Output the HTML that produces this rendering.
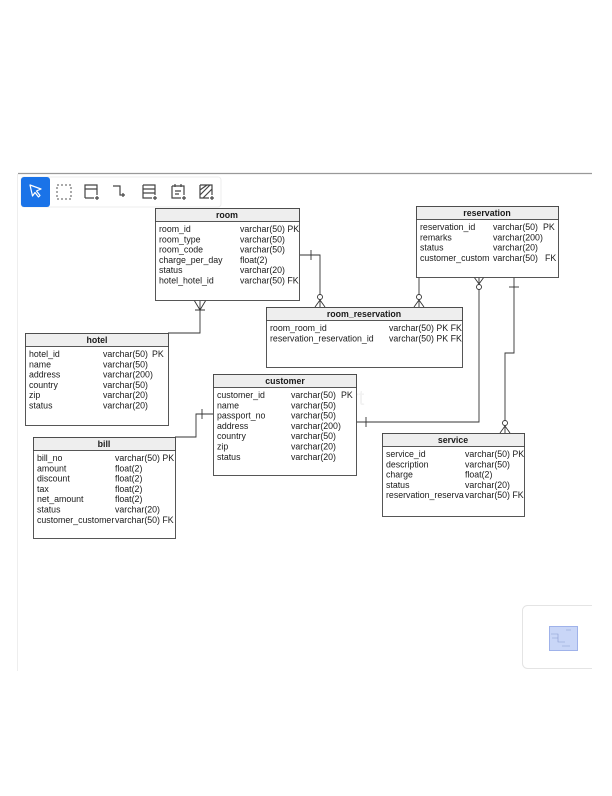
<!DOCTYPE html>
<html><head><meta charset="utf-8"><style>
html,body{margin:0;padding:0;background:#fff;}
svg{display:block;font-family:"Liberation Sans",sans-serif;}
.t{font-size:8.8px;fill:#1a1a1a;}
.h{font-size:8.8px;font-weight:bold;fill:#1a1a1a;}
</style></head><body>
<svg width="612" height="796" viewBox="0 0 612 796" xmlns="http://www.w3.org/2000/svg">
<rect width="612" height="796" fill="#fff"/>
<line x1="18" y1="173.5" x2="592" y2="173.5" stroke="#999" stroke-width="1.2"/>
<line x1="17.5" y1="174" x2="17.5" y2="671" stroke="#eee" stroke-width="1"/>
<!-- toolbar -->
<rect x="21" y="177" width="200" height="30" rx="3" fill="#fff" stroke="#eee"/>
<rect x="21" y="177" width="29" height="30" rx="3" fill="#1a73e8"/>
<path d="M30 185 L41 189 L36.5 191 L40 195.5 L38.5 197 L35 192.5 L32.5 196 Z" fill="none" stroke="#fff" stroke-width="1.2" stroke-linejoin="round"/>
<rect x="57" y="185" width="14" height="14" fill="none" stroke="#555" stroke-dasharray="2,2"/>
<g fill="none" stroke="#444" stroke-width="1.2">
<path d="M85 198 V185 H97 V195 M85 189 H97 M85 198 H94 M97 196 V200 M95 198 H99"/>
<path d="M113 186 H120 V195 H124 M123 193 V197 M121 195 H125"/>
<path d="M143 185 H155 V195 M143 185 V198 H152 M143 189 H155 M143 193 H155 M155 196 V200 M153 198 H157"/>
<path d="M172 186 H184 V195 M172 186 V198 H181 M175 191 H181 M175 194 H179 M184 196 V200 M182 198 H186 M175 184 V187 M181 184 V187"/>
<path d="M200 185 H212 V195 M200 185 V198 H209 M200 190 L207 185 M200 195 L210 185 M203 198 L212 189 M212 196 V200 M210 198 H214"/>
</g>
<!-- watermark -->
<circle cx="236" cy="397" r="9" fill="none" stroke="#f0f0f0" stroke-width="3"/>
<text x="250" y="405" font-size="21" fill="#f2f2f2">CareerXpert</text>
<!-- connectors -->
<g fill="none" stroke="#333" stroke-width="0.9">
<path d="M200 300 V333 H168"/>
<path d="M194 300 L200 310 L206 300 M195 310 H205"/>
<path d="M300 255 H320 V307"/>
<line x1="311" y1="250" x2="311" y2="260"/>
<circle cx="320" cy="297" r="2.5" fill="#fff"/>
<path d="M315 307 L320 300 L325 307"/>
<path d="M419 277 V307"/>
<circle cx="419" cy="297" r="2.5" fill="#fff"/>
<path d="M414 307 L419 300 L424 307"/>
<path d="M479 277 V422 H356"/>
<path d="M474 277 L479 284 L484 277"/>
<circle cx="479" cy="287" r="2.5" fill="#fff"/>
<line x1="366" y1="417" x2="366" y2="427"/>
<path d="M514 277 V353 H505 V433"/>
<line x1="509" y1="287" x2="519" y2="287"/>
<circle cx="505" cy="423" r="2.5" fill="#fff"/>
<path d="M500 433 L505 426 L510 433"/>
<path d="M213 414 H196 V437 H175"/>
<line x1="202" y1="409" x2="202" y2="419"/>
</g>
<!-- tables -->
<g stroke="#444" stroke-width="0.9">
<rect x="155.5" y="208.5" width="144" height="92" fill="#fff"/><rect x="155.5" y="208.5" width="144" height="13" fill="#eee"/>
<rect x="416.5" y="206.5" width="142" height="71" fill="#fff"/><rect x="416.5" y="206.5" width="142" height="13" fill="#eee"/>
<rect x="266.5" y="307.5" width="196" height="60" fill="#fff"/><rect x="266.5" y="307.5" width="196" height="13" fill="#eee"/>
<rect x="25.5" y="333.5" width="143" height="92" fill="#fff"/><rect x="25.5" y="333.5" width="143" height="13" fill="#eee"/>
<rect x="213.5" y="374.5" width="143" height="101" fill="#fff"/><rect x="213.5" y="374.5" width="143" height="13" fill="#eee"/>
<rect x="33.5" y="437.5" width="142" height="101" fill="#fff"/><rect x="33.5" y="437.5" width="142" height="13" fill="#eee"/>
<rect x="382.5" y="433.5" width="142" height="83" fill="#fff"/><rect x="382.5" y="433.5" width="142" height="13" fill="#eee"/>
</g>
<g text-anchor="middle" class="h">
<text x="227" y="218">room</text>
<text x="487" y="216">reservation</text>
<text x="364" y="317">room_reservation</text>
<text x="97" y="343">hotel</text>
<text x="285" y="384">customer</text>
<text x="104" y="447">bill</text>
<text x="453" y="443">service</text>
</g>
<g class="t">
<text x="159" y="232">room_id</text><text x="240" y="232">varchar(50) PK</text>
<text x="159" y="242.3">room_type</text><text x="240" y="242.3">varchar(50)</text>
<text x="159" y="252.6">room_code</text><text x="240" y="252.6">varchar(50)</text>
<text x="159" y="262.9">charge_per_day</text><text x="240" y="262.9">float(2)</text>
<text x="159" y="273.2">status</text><text x="240" y="273.2">varchar(20)</text>
<text x="159" y="283.5">hotel_hotel_id</text><text x="240" y="283.5">varchar(50) FK</text>

<text x="420" y="230">reservation_id</text><text x="493" y="230">varchar(50)</text><text x="543" y="230">PK</text>
<text x="420" y="240.3">remarks</text><text x="493" y="240.3">varchar(200)</text>
<text x="420" y="250.6">status</text><text x="493" y="250.6">varchar(20)</text>
<text x="420" y="260.9">customer_custom</text><text x="493" y="260.9">varchar(50)</text><text x="545" y="260.9">FK</text>

<text x="270" y="331">room_room_id</text><text x="389" y="331">varchar(50) PK FK</text>
<text x="270" y="341.3">reservation_reservation_id</text><text x="389" y="341.3">varchar(50) PK FK</text>

<text x="29" y="357">hotel_id</text><text x="103" y="357">varchar(50)</text><text x="152" y="357">PK</text>
<text x="29" y="367.3">name</text><text x="103" y="367.3">varchar(50)</text>
<text x="29" y="377.6">address</text><text x="103" y="377.6">varchar(200)</text>
<text x="29" y="387.9">country</text><text x="103" y="387.9">varchar(50)</text>
<text x="29" y="398.2">zip</text><text x="103" y="398.2">varchar(20)</text>
<text x="29" y="408.5">status</text><text x="103" y="408.5">varchar(20)</text>

<text x="217" y="398">customer_id</text><text x="291" y="398">varchar(50)</text><text x="341" y="398">PK</text>
<text x="217" y="408.3">name</text><text x="291" y="408.3">varchar(50)</text>
<text x="217" y="418.6">passport_no</text><text x="291" y="418.6">varchar(50)</text>
<text x="217" y="428.9">address</text><text x="291" y="428.9">varchar(200)</text>
<text x="217" y="439.2">country</text><text x="291" y="439.2">varchar(50)</text>
<text x="217" y="449.5">zip</text><text x="291" y="449.5">varchar(20)</text>
<text x="217" y="459.8">status</text><text x="291" y="459.8">varchar(20)</text>

<text x="37" y="461">bill_no</text><text x="115" y="461">varchar(50) PK</text>
<text x="37" y="471.3">amount</text><text x="115" y="471.3">float(2)</text>
<text x="37" y="481.6">discount</text><text x="115" y="481.6">float(2)</text>
<text x="37" y="491.9">tax</text><text x="115" y="491.9">float(2)</text>
<text x="37" y="502.2">net_amount</text><text x="115" y="502.2">float(2)</text>
<text x="37" y="512.5">status</text><text x="115" y="512.5">varchar(20)</text>
<text x="37" y="522.8">customer_customer</text><text x="115" y="522.8">varchar(50) FK</text>

<text x="386" y="457">service_id</text><text x="465" y="457">varchar(50) PK</text>
<text x="386" y="467.3">description</text><text x="465" y="467.3">varchar(50)</text>
<text x="386" y="477.6">charge</text><text x="465" y="477.6">float(2)</text>
<text x="386" y="487.9">status</text><text x="465" y="487.9">varchar(20)</text>
<text x="386" y="498.2">reservation_reserva</text><text x="465" y="498.2">varchar(50) FK</text>
</g>
<!-- minimap -->
<rect x="522.5" y="605.5" width="80" height="63" rx="5" fill="#fff" stroke="#e4e4e4"/>
<rect x="592" y="600" width="20" height="75" fill="#fff"/>
<rect x="549.5" y="626.5" width="28" height="24" fill="#c9d6f7" stroke="#9fb2ea"/>
<path d="M551 634 H558 V642 H565 M558 638 H552 M566 630 H571 M562 646 H570" stroke="#8a9bd0" stroke-width="0.6" fill="none"/>
</svg>
</body></html>
